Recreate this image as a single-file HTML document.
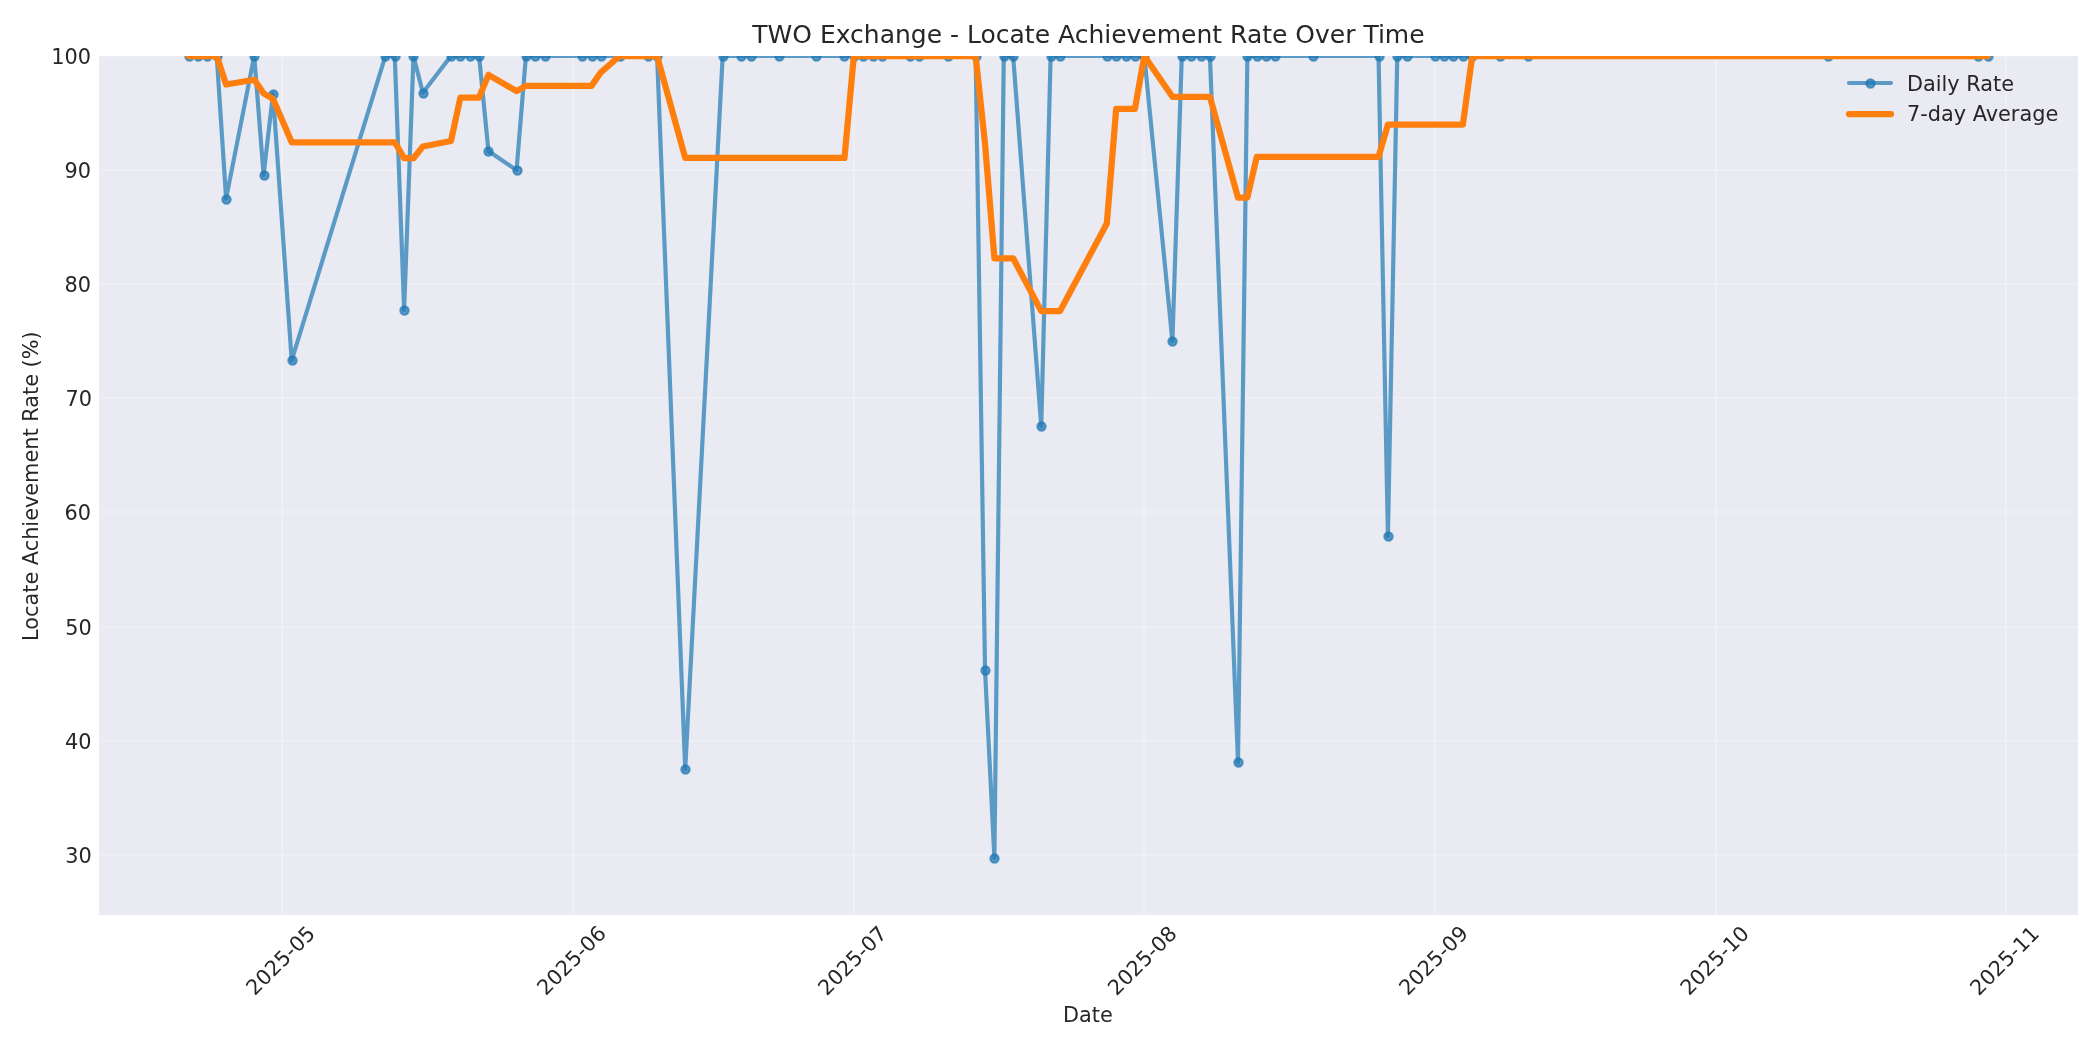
<!DOCTYPE html>
<html lang="en">
<head>
<meta charset="utf-8">
<title>TWO Exchange - Locate Achievement Rate Over Time</title>
<style>
html, body { margin: 0; padding: 0; background: #ffffff; }
body { width: 2100px; height: 1050px; overflow: hidden; }
svg { display: block; will-change: transform; }
text { font-family: "DejaVu Sans", "Liberation Sans", sans-serif; }
</style>
</head>
<body>
<svg width="2100" height="1050" viewBox="0 0 2100 1050">
<defs><clipPath id="axclip"><rect x="99" y="56" width="1979" height="859"/></clipPath></defs>
<rect x="0" y="0" width="2100" height="1050" fill="#ffffff"/>
<rect x="99" y="56" width="1979" height="859" fill="#eaeaf2"/>
<g clip-path="url(#axclip)" stroke="#ffffff" stroke-opacity="0.3" stroke-width="1.6667" stroke-linecap="round" fill="none">
<path d="M282 915 V56"/>
<path d="M573 915 V56"/>
<path d="M854 915 V56"/>
<path d="M1144 915 V56"/>
<path d="M1435 915 V56"/>
<path d="M1716 915 V56"/>
<path d="M2006 915 V56"/>
<path d="M99 855 H2078"/>
<path d="M99 741 H2078"/>
<path d="M99 627 H2078"/>
<path d="M99 512 H2078"/>
<path d="M99 398 H2078"/>
<path d="M99 284 H2078"/>
<path d="M99 170 H2078"/>
<path d="M99 56 H2078"/>
</g>
<g clip-path="url(#axclip)" fill="none" stroke-linejoin="round" stroke-linecap="round">
<path d="M188.63 56 L198 56 L207.37 56 L216.74 56 L226.11 198.64 L254.22 56 L263.59 174.9 L272.96 94 L291.7 360.33 L385.39 56 L394.76 56 L404.13 310.01 L413.5 56 L422.87 92.86 L450.98 56 L460.35 56 L469.71 56 L479.08 56 L488.45 151.05 L516.56 170.11 L525.93 56 L535.3 56 L544.67 56 L582.15 56 L591.52 56 L600.89 56 L619.62 56 L647.73 56 L657.1 56 L685.21 769.19 L722.69 56 L741.43 56 L750.8 56 L778.9 56 L816.38 56 L844.49 56 L853.86 56 L863.23 56 L872.6 56 L881.97 56 L910.08 56 L919.44 56 L947.55 56 L975.66 56 L985.03 670.14 L994.4 857.85 L1003.77 56 L1013.14 56 L1041.25 426.06 L1050.62 56 L1059.99 56 L1106.83 56 L1116.2 56 L1125.57 56 L1134.94 56 L1144.31 56 L1172.42 341.27 L1181.79 56 L1191.16 56 L1200.53 56 L1209.9 56 L1238 762.34 L1247.37 56 L1256.74 56 L1266.11 56 L1275.48 56 L1312.96 56 L1378.54 56 L1387.91 536.17 L1397.28 56 L1406.65 56 L1434.76 56 L1444.13 56 L1453.5 56 L1462.87 56 L1472.24 56 L1500.35 56 L1528.45 56 L1828.27 56 L1978.18 56 L1987.55 56" stroke="#1f77b4" stroke-opacity="0.7" stroke-width="4.1667"/>
<g fill="#1f77b4" fill-opacity="0.7" stroke="#1f77b4" stroke-opacity="0.7" stroke-width="2.0833">
<circle cx="189.5" cy="56.5" r="4.1667"/>
<circle cx="198.5" cy="56.5" r="4.1667"/>
<circle cx="207.5" cy="56.5" r="4.1667"/>
<circle cx="217.5" cy="56.5" r="4.1667"/>
<circle cx="226.5" cy="199.5" r="4.1667"/>
<circle cx="254.5" cy="56.5" r="4.1667"/>
<circle cx="264.5" cy="175.5" r="4.1667"/>
<circle cx="273.5" cy="94.5" r="4.1667"/>
<circle cx="292.5" cy="360.5" r="4.1667"/>
<circle cx="385.5" cy="56.5" r="4.1667"/>
<circle cx="395.5" cy="56.5" r="4.1667"/>
<circle cx="404.5" cy="310.5" r="4.1667"/>
<circle cx="413.5" cy="56.5" r="4.1667"/>
<circle cx="423.5" cy="93.5" r="4.1667"/>
<circle cx="451.5" cy="56.5" r="4.1667"/>
<circle cx="460.5" cy="56.5" r="4.1667"/>
<circle cx="470.5" cy="56.5" r="4.1667"/>
<circle cx="479.5" cy="56.5" r="4.1667"/>
<circle cx="488.5" cy="151.5" r="4.1667"/>
<circle cx="517.5" cy="170.5" r="4.1667"/>
<circle cx="526.5" cy="56.5" r="4.1667"/>
<circle cx="535.5" cy="56.5" r="4.1667"/>
<circle cx="545.5" cy="56.5" r="4.1667"/>
<circle cx="582.5" cy="56.5" r="4.1667"/>
<circle cx="592.5" cy="56.5" r="4.1667"/>
<circle cx="601.5" cy="56.5" r="4.1667"/>
<circle cx="620.5" cy="56.5" r="4.1667"/>
<circle cx="648.5" cy="56.5" r="4.1667"/>
<circle cx="657.5" cy="56.5" r="4.1667"/>
<circle cx="685.5" cy="769.5" r="4.1667"/>
<circle cx="723.5" cy="56.5" r="4.1667"/>
<circle cx="741.5" cy="56.5" r="4.1667"/>
<circle cx="751.5" cy="56.5" r="4.1667"/>
<circle cx="779.5" cy="56.5" r="4.1667"/>
<circle cx="816.5" cy="56.5" r="4.1667"/>
<circle cx="844.5" cy="56.5" r="4.1667"/>
<circle cx="854.5" cy="56.5" r="4.1667"/>
<circle cx="863.5" cy="56.5" r="4.1667"/>
<circle cx="873.5" cy="56.5" r="4.1667"/>
<circle cx="882.5" cy="56.5" r="4.1667"/>
<circle cx="910.5" cy="56.5" r="4.1667"/>
<circle cx="919.5" cy="56.5" r="4.1667"/>
<circle cx="948.5" cy="56.5" r="4.1667"/>
<circle cx="976.5" cy="56.5" r="4.1667"/>
<circle cx="985.5" cy="670.5" r="4.1667"/>
<circle cx="994.5" cy="858.5" r="4.1667"/>
<circle cx="1004.5" cy="56.5" r="4.1667"/>
<circle cx="1013.5" cy="56.5" r="4.1667"/>
<circle cx="1041.5" cy="426.5" r="4.1667"/>
<circle cx="1051.5" cy="56.5" r="4.1667"/>
<circle cx="1060.5" cy="56.5" r="4.1667"/>
<circle cx="1107.5" cy="56.5" r="4.1667"/>
<circle cx="1116.5" cy="56.5" r="4.1667"/>
<circle cx="1126.5" cy="56.5" r="4.1667"/>
<circle cx="1135.5" cy="56.5" r="4.1667"/>
<circle cx="1144.5" cy="56.5" r="4.1667"/>
<circle cx="1172.5" cy="341.5" r="4.1667"/>
<circle cx="1182.5" cy="56.5" r="4.1667"/>
<circle cx="1191.5" cy="56.5" r="4.1667"/>
<circle cx="1201.5" cy="56.5" r="4.1667"/>
<circle cx="1210.5" cy="56.5" r="4.1667"/>
<circle cx="1238.5" cy="762.5" r="4.1667"/>
<circle cx="1247.5" cy="56.5" r="4.1667"/>
<circle cx="1257.5" cy="56.5" r="4.1667"/>
<circle cx="1266.5" cy="56.5" r="4.1667"/>
<circle cx="1275.5" cy="56.5" r="4.1667"/>
<circle cx="1313.5" cy="56.5" r="4.1667"/>
<circle cx="1379.5" cy="56.5" r="4.1667"/>
<circle cx="1388.5" cy="536.5" r="4.1667"/>
<circle cx="1397.5" cy="56.5" r="4.1667"/>
<circle cx="1407.5" cy="56.5" r="4.1667"/>
<circle cx="1435.5" cy="56.5" r="4.1667"/>
<circle cx="1444.5" cy="56.5" r="4.1667"/>
<circle cx="1453.5" cy="56.5" r="4.1667"/>
<circle cx="1463.5" cy="56.5" r="4.1667"/>
<circle cx="1472.5" cy="56.5" r="4.1667"/>
<circle cx="1500.5" cy="56.5" r="4.1667"/>
<circle cx="1528.5" cy="56.5" r="4.1667"/>
<circle cx="1828.5" cy="56.5" r="4.1667"/>
<circle cx="1978.5" cy="56.5" r="4.1667"/>
<circle cx="1988.5" cy="56.5" r="4.1667"/>
</g>
<path d="M188.63 56 L198 56 L207.37 56 L216.74 56 L226.11 84.53 L254.22 79.77 L263.59 93.36 L272.96 98.79 L291.7 142.27 L385.39 142.27 L394.76 142.27 L404.13 158.18 L413.5 158.18 L422.87 146.46 L450.98 141.03 L460.35 97.55 L469.71 97.55 L479.08 97.55 L488.45 74.84 L516.56 91.15 L525.93 85.88 L535.3 85.88 L544.67 85.88 L582.15 85.88 L591.52 85.88 L600.89 72.3 L619.62 56 L647.73 56 L657.1 56 L685.21 157.88 L722.69 157.88 L741.43 157.88 L750.8 157.88 L778.9 157.88 L816.38 157.88 L844.49 157.88 L853.86 56 L863.23 56 L872.6 56 L881.97 56 L910.08 56 L919.44 56 L947.55 56 L975.66 56 L985.03 143.73 L994.4 258.28 L1003.77 258.28 L1013.14 258.28 L1041.25 311.15 L1050.62 311.15 L1059.99 311.15 L1106.83 223.42 L1116.2 108.87 L1125.57 108.87 L1134.94 108.87 L1144.31 56 L1172.42 96.75 L1181.79 96.75 L1191.16 96.75 L1200.53 96.75 L1209.9 96.75 L1238 197.66 L1247.37 197.66 L1256.74 156.91 L1266.11 156.91 L1275.48 156.91 L1312.96 156.91 L1378.54 156.91 L1387.91 124.6 L1397.28 124.6 L1406.65 124.6 L1434.76 124.6 L1444.13 124.6 L1453.5 124.6 L1462.87 124.6 L1472.24 56 L1500.35 56 L1528.45 56 L1828.27 56 L1978.18 56 L1987.55 56" stroke="#ff7f0e" stroke-width="6.25"/>
</g>
<g font-family="'DejaVu Sans', 'Liberation Sans', sans-serif" fill="#262626">
<text transform="translate(254.85 996.34) rotate(-45)" font-size="20.8333" text-anchor="start">2025-05</text>
<text transform="translate(545.78 996.26) rotate(-45)" font-size="20.8333" text-anchor="start">2025-06</text>
<text transform="translate(826.65 996.4) rotate(-45)" font-size="20.8333" text-anchor="start">2025-07</text>
<text transform="translate(1116.58 996.43) rotate(-45)" font-size="20.8333" text-anchor="start">2025-08</text>
<text transform="translate(1407.73 996.29) rotate(-45)" font-size="20.8333" text-anchor="start">2025-09</text>
<text transform="translate(1688.88 996.35) rotate(-45)" font-size="20.8333" text-anchor="start">2025-10</text>
<text transform="translate(1978.87 996.43) rotate(-45)" font-size="20.8333" text-anchor="start">2025-11</text>
<text x="1087.9" y="1022" font-size="20.8333" text-anchor="middle">Date</text>
<text x="91.76" y="863" font-size="20.8333" text-anchor="end">30</text>
<text x="91.56" y="749" font-size="20.8333" text-anchor="end">40</text>
<text x="91.66" y="635" font-size="20.8333" text-anchor="end">50</text>
<text x="91.01" y="520" font-size="20.8333" text-anchor="end">60</text>
<text x="92.06" y="406" font-size="20.8333" text-anchor="end">70</text>
<text x="91" y="292" font-size="20.8333" text-anchor="end">80</text>
<text x="91.02" y="178" font-size="20.8333" text-anchor="end">90</text>
<text x="91.12" y="64" font-size="20.8333" text-anchor="end">100</text>
<text transform="translate(37.7 486.18) rotate(-90)" font-size="20.8333" text-anchor="middle">Locate Achievement Rate (%)</text>
<text x="1088.48" y="43" font-size="25" text-anchor="middle">TWO Exchange - Locate Achievement Rate Over Time</text>
<text x="1906.96" y="91" font-size="20.8333" text-anchor="start">Daily Rate</text>
<text x="1907.01" y="121" font-size="20.8333" text-anchor="start">7-day Average</text>
</g>
<g fill="none" stroke-linecap="round">
<path d="M1849 83 H1891" stroke="#1f77b4" stroke-opacity="0.7" stroke-width="4.1667"/>
<circle cx="1870.5" cy="83.5" r="4.1667" fill="#1f77b4" fill-opacity="0.7" stroke="#1f77b4" stroke-opacity="0.7" stroke-width="2.0833"/>
<path d="M1849 114 H1891" stroke="#ff7f0e" stroke-opacity="1" stroke-width="6.25"/>
</g>
</svg>
</body>
</html>
